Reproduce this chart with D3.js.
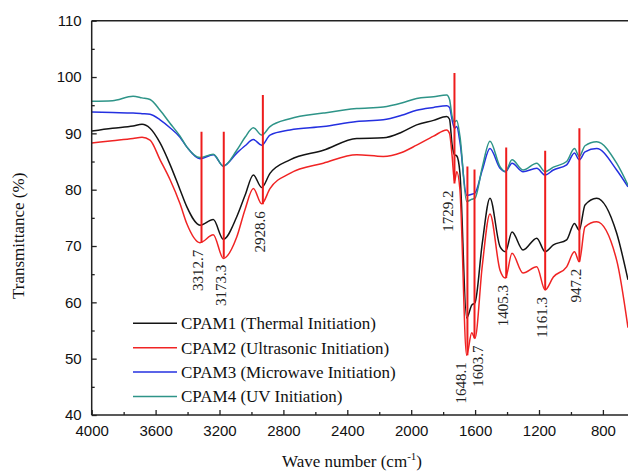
<!DOCTYPE html>
<html>
<head>
<meta charset="utf-8">
<script src="https://cdn.jsdelivr.net/npm/d3@7"></script>
<style>
  html, body { margin: 0; padding: 0; background: #fff; }
  svg { display: block; }
</style>
</head>
<body>
<svg id="chart" width="628" height="476"></svg>
<script>
// ---------- data ----------
const waveNumbers = [4000, 3870, 3741, 3685, 3635, 3572, 3510, 3447, 3405, 3322, 3239, 3176, 3092, 3040, 2988, 2936, 2884, 2759, 2550, 2341, 2175, 2060, 1966, 1860, 1778, 1760, 1744, 1729, 1715, 1695, 1653, 1621, 1601, 1555, 1507, 1444, 1410, 1369, 1300, 1214, 1162, 1110, 1027, 978, 948, 912, 839, 714, 643];

const cpam1 = [90.4, 90.9, 91.3, 91.6, 90.9, 88.3, 84.5, 80.0, 77.0, 73.7, 74.7, 71.2, 75.2, 79.0, 82.6, 80.4, 82.9, 85.3, 87.0, 89.1, 89.2, 90.2, 91.5, 92.3, 93.0, 92.5, 88.0, 86.2, 86.0, 83.0, 57.2, 59.5, 59.9, 70.5, 78.5, 69.9, 69.0, 72.5, 69.3, 71.4, 69.0, 70.2, 71.1, 74.0, 72.8, 77.3, 78.5, 72.3, 64.0];
const cpam2 = [88.3, 88.7, 89.1, 89.3, 88.8, 85.3, 81.8, 77.5, 74.0, 70.6, 72.0, 67.8, 71.6, 76.5, 80.2, 77.5, 80.2, 82.9, 84.7, 86.2, 85.9, 86.6, 87.9, 89.5, 90.6, 90.0, 86.0, 81.4, 83.2, 80.0, 50.6, 54.6, 53.6, 66.5, 75.7, 65.7, 64.3, 68.7, 65.2, 66.3, 62.2, 64.5, 66.3, 69.0, 67.2, 73.4, 74.3, 67.5, 55.5];
const cpam3 = [93.8, 93.7, 93.6, 93.5, 93.4, 92.4, 91.0, 89.3, 87.6, 85.5, 86.2, 84.2, 86.5, 87.8, 88.9, 87.9, 89.7, 90.6, 91.2, 92.1, 92.4, 93.2, 94.1, 94.6, 94.9, 94.6, 92.4, 90.9, 91.2, 88.5, 79.0, 79.2, 79.4, 83.5, 87.3, 83.8, 83.2, 84.7, 83.2, 83.8, 82.6, 83.5, 84.4, 86.5, 85.3, 86.7, 87.3, 83.5, 80.5];
const cpam4 = [95.7, 95.8, 96.6, 96.3, 96.0, 94.1, 91.8, 89.5, 87.6, 85.7, 86.3, 84.2, 87.0, 89.3, 91.0, 89.7, 91.2, 92.6, 93.6, 94.4, 94.7, 95.4, 96.2, 96.5, 96.8, 96.0, 93.0, 92.0, 92.3, 89.5, 77.9, 78.3, 78.5, 84.0, 88.6, 84.1, 83.2, 85.3, 83.5, 84.7, 83.2, 84.0, 85.0, 87.3, 85.9, 87.8, 88.5, 84.7, 80.8];

const seriesNames = ["CPAM1 (Thermal Initiation)", "CPAM2 (Ultrasonic Initiation)", "CPAM3 (Microwave Initiation)", "CPAM4 (UV Initiation)"];

const peakLabels = ["3312.7", "3173.3", "2928.6", "1729.2", "1648.1", "1603.7", "1405.3", "1161.3", "947.2"];
const peakTop =    [90.3, 90.3, 96.8, 100.7, 84.1, 83.6, 87.5, 86.9, 90.9];
const peakBottom = [70.6, 67.9, 77.4, 81.1, 50.6, 53.6, 64.3, 62.2, 67.2];

const xTicks = [4000, 3600, 3200, 2800, 2400, 2000, 1600, 1200, 800];
const xMinorTicks = [3800, 3400, 3000, 2600, 2200, 1800, 1400, 1000, 600];
const yTicks = [40, 50, 60, 70, 80, 90, 100, 110];
const yMinorTicks = [45, 55, 65, 75, 85, 95, 105];

(function draw() {
  // ---------- styles / layout ----------
  const colors = ["#141414", "#f02424", "#2430e0", "#2e9488"];
  const W = 628;
  const pL = 91.7, pT = 20.7, pB = 415;
  const pxPerUnit = 0.15975;
  const labelNudge = { "1729.2": -6.5, "1648.1": -6.5, "1603.7": 3 };

  const svg = d3.select("#chart");

  const x = d3.scaleLinear().domain([4000, 400]).range([pL, pL + 3600 * pxPerUnit]);
  const y = d3.scaleLinear().domain([40, 110]).range([pB, pT]);

  svg.append("defs").append("clipPath").attr("id", "plotClip")
    .append("rect").attr("x", pL).attr("y", pT).attr("width", W - pL).attr("height", pB - pT);

  const series = [cpam1, cpam2, cpam3, cpam4];
  const line = d3.line().x(d => x(d[0])).y(d => y(d[1])).curve(d3.curveMonotoneX);
  const plot = svg.append("g").attr("clip-path", "url(#plotClip)");
  series.forEach((vals, i) => {
    plot.append("path")
      .datum(waveNumbers.map((w, j) => [w, vals[j]]))
      .attr("fill", "none")
      .attr("stroke", colors[i])
      .attr("stroke-width", 1.5)
      .attr("stroke-linejoin", "round")
      .attr("d", line);
  });

  const peakWn = peakLabels.map(Number);
  plot.selectAll(".peak").data(peakWn).enter().append("line")
    .attr("x1", d => x(d)).attr("x2", d => x(d))
    .attr("y1", (d, i) => y(peakTop[i])).attr("y2", (d, i) => y(peakBottom[i]))
    .attr("stroke", "#ee1c1c").attr("stroke-width", 2);

  const serif = "'Liberation Serif', 'Times New Roman', serif";
  svg.selectAll(".plabel").data(peakLabels).enter().append("text")
    .attr("transform", (d, i) => {
      const nx = labelNudge[d] !== undefined ? labelNudge[d] : -3.5;
      return `translate(${x(peakWn[i]) + nx},${y(peakBottom[i]) + 7}) rotate(-90)`;
    })
    .attr("text-anchor", "end")
    .attr("dy", "0.35em")
    .attr("font-family", serif)
    .attr("font-size", 15)
    .attr("fill", "#222")
    .text(d => d);

  const axisFont = "'Liberation Sans', Arial, sans-serif";
  const gx = svg.append("g").attr("transform", `translate(0,${pB})`)
    .call(d3.axisBottom(x).tickValues(xTicks).tickFormat(d3.format("d")).tickSize(-5).tickPadding(10));
  const gxm = svg.append("g").attr("transform", `translate(0,${pB})`)
    .call(d3.axisBottom(x).tickValues(xMinorTicks.filter(v => x(v) < W)).tickFormat("").tickSize(-3));
  const gy = svg.append("g").attr("transform", `translate(${pL},0)`)
    .call(d3.axisLeft(y).tickValues(yTicks).tickFormat(d3.format("d")).tickSize(-5).tickPadding(10));
  const gym = svg.append("g").attr("transform", `translate(${pL},0)`)
    .call(d3.axisLeft(y).tickValues(yMinorTicks).tickFormat("").tickSize(-3));

  [gx, gxm, gy, gym].forEach(g => {
    g.select(".domain").remove();
    g.selectAll(".tick line").attr("stroke", "#222").attr("stroke-width", 1.3);
    g.selectAll("text").attr("font-family", axisFont).attr("font-size", 15).attr("fill", "#111");
  });

  const spine = svg.append("g").attr("stroke", "#222").attr("stroke-width", 1.5).attr("fill", "none");
  spine.append("line").attr("x1", pL).attr("x2", pL).attr("y1", pT).attr("y2", pB);
  spine.append("line").attr("x1", pL).attr("x2", W).attr("y1", pB).attr("y2", pB);
  spine.append("line").attr("x1", pL).attr("x2", W).attr("y1", pT).attr("y2", pT);

  svg.append("text")
    .attr("transform", `translate(24,${(pT + pB) / 2 + 18}) rotate(-90)`)
    .attr("text-anchor", "middle")
    .attr("font-family", serif).attr("font-size", 17).attr("fill", "#111")
    .text("Transmittance (%)");

  const xt = svg.append("text")
    .attr("x", 352).attr("y", 467)
    .attr("text-anchor", "middle")
    .attr("font-family", serif).attr("font-size", 17).attr("fill", "#111");
  xt.append("tspan").text("Wave number (cm");
  xt.append("tspan").attr("font-size", 11).attr("dy", -7).text("-1");
  xt.append("tspan").attr("dy", 7).text(")");

  const legend = svg.append("g");
  seriesNames.forEach((name, i) => {
    const ly = 323.3 + i * 24.4;
    legend.append("line").attr("x1", 133).attr("x2", 177).attr("y1", ly).attr("y2", ly)
      .attr("stroke", colors[i]).attr("stroke-width", 1.5);
    legend.append("text").attr("x", 181).attr("y", ly).attr("dy", "0.35em")
      .attr("font-family", serif).attr("font-size", 17).attr("fill", "#111")
      .text(name);
  });
})();
</script>
</body>
</html>
